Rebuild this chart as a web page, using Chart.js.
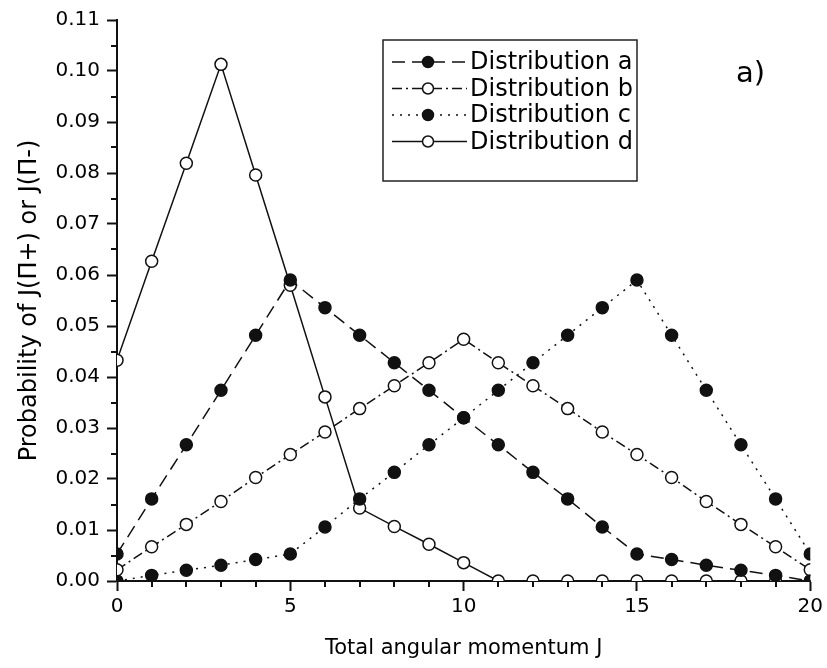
<!DOCTYPE html>
<html>
<head>
<meta charset="utf-8">
<script src="https://cdn.jsdelivr.net/npm/chart.js@4.4.0/dist/chart.umd.min.js"></script>
<style>
  body { margin: 0; background: #fff; }
  #wrap { width: 827px; height: 668px; }
</style>
</head>
<body>
<div id="wrap"><canvas id="chart" width="827" height="668"></canvas></div>
<script>
// total angular momentum J
const J = [0, 1, 2, 3, 4, 5, 6, 7, 8, 9, 10, 11, 12, 13, 14, 15, 16, 17, 18, 19, 20];

// probability of J(Π+) or J(Π-) for each distribution
const distA = [0.0053, 0.0161, 0.0267, 0.0374, 0.0482, 0.0590, 0.0536, 0.0482, 0.0428, 0.0374, 0.0320,
               0.0267, 0.0213, 0.0161, 0.0106, 0.0053, 0.0042, 0.0031, 0.0021, 0.0011, 0.0000];
const distB = [0.0022, 0.0067, 0.0111, 0.0156, 0.0203, 0.0248, 0.0292, 0.0338, 0.0383, 0.0428, 0.0474,
               0.0428, 0.0383, 0.0338, 0.0292, 0.0248, 0.0203, 0.0156, 0.0111, 0.0067, 0.0022];
const distC = [0.0000, 0.0011, 0.0021, 0.0031, 0.0042, 0.0053, 0.0106, 0.0161, 0.0213, 0.0267, 0.0320,
               0.0374, 0.0428, 0.0482, 0.0536, 0.0590, 0.0482, 0.0374, 0.0267, 0.0161, 0.0053];
const distD = [0.0433, 0.0627, 0.0819, 0.1013, 0.0796, 0.0580, 0.0361, 0.0143, 0.0107, 0.0072, 0.0036,
               0, 0, 0, 0, 0, 0, 0, 0, 0, 0];

const seriesNames = ['Distribution a', 'Distribution b', 'Distribution c', 'Distribution d'];

const xTickValues = [0, 5, 10, 15, 20];
const yTickLabels = ['0.00', '0.01', '0.02', '0.03', '0.04', '0.05', '0.06', '0.07', '0.08', '0.09', '0.10', '0.11'];

const FONT = 'DejaVu Sans';
const INK = '#111';

const toPoints = (vals) => vals.map((y, i) => ({ x: J[i], y }));

function makeSeries(label, vals, dash, filled) {
  return {
    label,
    data: toPoints(vals),
    borderColor: INK,
    borderWidth: 1.5,
    borderDash: dash,
    tension: 0,
    pointRadius: 6,
    pointHoverRadius: 6,
    pointBorderWidth: 1.5,
    pointBorderColor: INK,
    pointBackgroundColor: filled ? INK : '#fff',
    clip: 0
  };
}

// small in-between ticks on both axes
const minorTicks = {
  id: 'minorTicks',
  afterDraw(chart) {
    const { ctx, scales: { x, y } } = chart;
    ctx.save();
    ctx.strokeStyle = INK;
    ctx.lineWidth = 2;
    ctx.beginPath();
    for (let v = 1; v < 20; v++) {
      if (v % 5 === 0) continue;
      const px = Math.round(x.getPixelForValue(v));
      ctx.moveTo(px, y.bottom);
      ctx.lineTo(px, y.bottom + 6);
    }
    for (let k = 1; k < 22; k += 2) {
      const py = Math.round(y.getPixelForValue(k * 0.005));
      ctx.moveTo(x.left, py);
      ctx.lineTo(x.left - 6, py);
    }
    ctx.stroke();
    ctx.restore();
  }
};

// framed legend inside the plot plus the panel tag
const boxLegend = {
  id: 'boxLegend',
  afterDraw(chart) {
    const { ctx } = chart;
    const bx = 383, by = 40, bw = 254, bh = 141;
    ctx.save();
    ctx.fillStyle = '#fff';
    ctx.fillRect(bx, by, bw, bh);
    ctx.strokeStyle = '#222';
    ctx.lineWidth = 1.5;
    ctx.strokeRect(bx, by, bw, bh);

    ctx.font = '24px "' + FONT + '"';
    ctx.textBaseline = 'middle';
    ctx.textAlign = 'left';
    chart.data.datasets.forEach((ds, i) => {
      const cy = 62 + i * 26.5;
      ctx.strokeStyle = ds.borderColor;
      ctx.lineWidth = ds.borderWidth;
      ctx.setLineDash(ds.borderDash || []);
      ctx.beginPath();
      ctx.moveTo(392, cy);
      ctx.lineTo(467, cy);
      ctx.stroke();
      ctx.setLineDash([]);
      ctx.beginPath();
      ctx.arc(428, cy, 5.5, 0, Math.PI * 2);
      ctx.fillStyle = ds.pointBackgroundColor;
      ctx.fill();
      ctx.lineWidth = ds.pointBorderWidth;
      ctx.stroke();
      ctx.fillStyle = '#000';
      ctx.fillText(ds.label, 470, cy + 1);
    });

    ctx.font = '29px "' + FONT + '"';
    ctx.fillText('a)', 736, 74);
    ctx.restore();
  }
};

const axisFont = { family: FONT, size: 20 };

new Chart(document.getElementById('chart'), {
  type: 'line',
  data: {
    datasets: [
      makeSeries(seriesNames[0], distA, [13, 7], true),
      makeSeries(seriesNames[1], distB, [10, 4, 2, 4], false),
      makeSeries(seriesNames[2], distC, [2, 6], true),
      makeSeries(seriesNames[3], distD, [], false)
    ]
  },
  options: {
    responsive: false,
    animation: false,
    events: [],
    layout: { padding: { top: 20, right: 14, bottom: 0, left: 0 } },
    plugins: { legend: { display: false }, tooltip: { enabled: false } },
    scales: {
      x: {
        type: 'linear',
        min: 0,
        max: 20,
        z: 1,
        afterBuildTicks: (s) => { s.ticks = xTickValues.map(v => ({ value: v })); },
        afterFit: (s) => { s.height = 87; },
        border: { display: true, color: INK, width: 2 },
        grid: { drawOnChartArea: false, drawTicks: true, tickLength: 10, tickWidth: 2, tickColor: INK },
        ticks: { font: axisFont, color: '#000', padding: 4, maxRotation: 0 },
        title: { display: true, text: 'Total angular momentum J', font: { family: FONT, size: 21 }, color: '#000',
                 padding: { top: 0, bottom: 7 } }
      },
      y: {
        min: 0,
        max: 0.11,
        z: 1,
        afterBuildTicks: (s) => { s.ticks = yTickLabels.map(t => ({ value: parseFloat(t) })); },
        afterFit: (s) => { s.width = 117; },
        border: { display: true, color: INK, width: 2 },
        grid: { drawOnChartArea: false, drawTicks: true, tickLength: 10, tickWidth: 2, tickColor: INK },
        ticks: { font: axisFont, color: '#000', padding: 7,
                 callback: (v) => yTickLabels.find(t => Math.abs(parseFloat(t) - v) < 1e-9) },
        title: { display: true, text: 'Probability of J(\u03A0+) or J(\u03A0-)', font: { family: FONT, size: 24 }, color: '#000',
                 padding: { top: 15, bottom: 0 } }
      }
    }
  },
  plugins: [minorTicks, boxLegend]
});
</script>
</body>
</html>
